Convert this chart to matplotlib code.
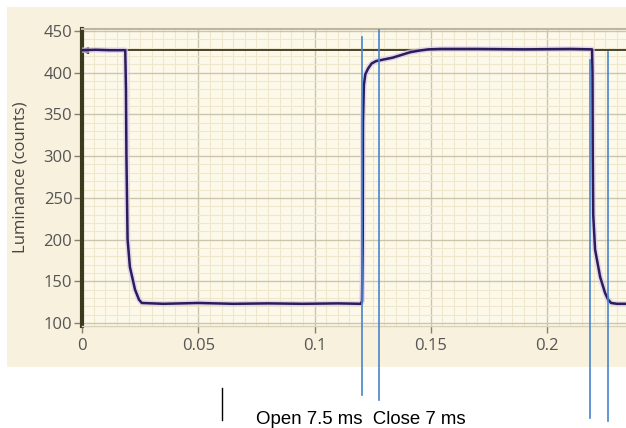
import matplotlib
matplotlib.use("Agg")
import matplotlib.pyplot as plt
from matplotlib.patches import Rectangle
from matplotlib.ticker import MultipleLocator

# trace: time (s) and luminance (counts)
trace_t = [0.0, 0.0060, 0.0120, 0.0186, 0.0189, 0.0191, 0.0196, 0.0206, 0.0228,
           0.0245, 0.0257, 0.0350, 0.0500, 0.0650, 0.0800, 0.0950, 0.1100, 0.1198,
           0.1204, 0.1207, 0.1208, 0.1212, 0.1218, 0.1230, 0.1245, 0.1265, 0.1300,
           0.1335, 0.1370, 0.1410, 0.1450, 0.1490, 0.1540, 0.1700, 0.1900, 0.2100,
           0.2193, 0.2195, 0.2196, 0.2198, 0.2206, 0.2228, 0.2249, 0.2262, 0.2275,
           0.2300, 0.2339]
trace_lum = [427, 427.5, 427, 427, 380, 300, 200, 167, 140,
             128, 124, 123, 124, 123, 123.5, 123, 123.5, 123,
             126, 200, 340, 385, 398, 405, 411, 414, 416,
             418, 421, 424.5, 426.5, 428, 428.5, 428.5, 428, 428.5,
             428, 400, 300, 230, 188, 155, 136, 128, 124,
             123, 123]

cursor_lum = 427

# annotation lines (time, top, bottom in counts)
mark_t = [0.1202, 0.1277, 0.2186, 0.2261]
mark_top = [443, 451, 415, 425]
mark_bottom = [14, 8, -14, -18]
tick_mark_t = 0.0602
tick_mark_span = (22, -16)
note_text = "Open 7.5 ms  Close 7 ms"

x_ticks = [0, 0.05, 0.1, 0.15, 0.2]
x_labels = ["0", "0.05", "0.1", "0.15", "0.2"]
y_ticks = [100, 150, 200, 250, 300, 350, 400, 450]

W, H = 626, 428
fig = plt.figure(figsize=(W / 100, H / 100), dpi=100)
fig.patch.set_facecolor("white")

# beige panel behind the graph
fig.patches.append(Rectangle((7 / W, 1 - 367 / H), 1 - 7 / W, 360 / H,
                             transform=fig.transFigure, facecolor="#f8f1dd",
                             edgecolor="none", zorder=-10))

ax = fig.add_axes([82 / W, 1 - 326 / H, 1 - 82 / W, 297 / H])
ax.set_zorder(1)
ax.set_facecolor("#fdf9ea")
ax.set_xlim(0, 0.2339)
ax.set_ylim(96.4, 452.4)

ax.xaxis.set_minor_locator(MultipleLocator(0.005))
ax.yaxis.set_minor_locator(MultipleLocator(10))
ax.set_xticks(x_ticks)
ax.set_xticklabels(x_labels)
ax.set_yticks(y_ticks)
ax.grid(which="minor", color="#efe7cc", lw=0.8)
ax.grid(which="major", color="#cbc5ae", lw=1.0)
ax.set_axisbelow(True)

ax.spines["right"].set_visible(False)
ax.spines["top"].set_color("#bdb59d")
ax.spines["top"].set_linewidth(1.5)
ax.spines["bottom"].set_color("#d9d1b8")
ax.spines["bottom"].set_linewidth(1)
ax.spines["left"].set_color("#3b3a1e")
ax.spines["left"].set_linewidth(3)

ax.tick_params(which="minor", length=0)
ax.tick_params(axis="x", which="major", direction="out", length=5, width=1,
               color="#888070", pad=4, labelsize=12, labelcolor="#555555")
ax.tick_params(axis="y", which="major", direction="out", length=6, width=1,
               color="#888070", pad=1, labelsize=12, labelcolor="#555555")
for lab in ax.get_xticklabels() + ax.get_yticklabels():
    lab.set_family("Open Sans")

ax.set_ylabel("Luminance (counts)", family="Open Sans", fontsize=12,
              color="#454545")
ax.yaxis.set_label_coords(-0.098, 0.5)

# cursor line
ax.axhline(cursor_lum, color="#3a3520", lw=1.3, zorder=3)
ax.plot([0.0015], [cursor_lum], marker="<", ms=4, color="#3a3520", zorder=4)

# trace with soft halo
ax.plot(trace_t, trace_lum, color="#d9c9ee", lw=4, alpha=0.7, zorder=4)
ax.plot(trace_t, trace_lum, color="#2b1c5c", lw=1.8, zorder=5)

# annotation lines that run below the axes
for t, top, bot in zip(mark_t, mark_top, mark_bottom):
    ax.plot([t, t], [bot, top], color="#4a84cc", lw=1.2, clip_on=False, zorder=6)
ax.plot([tick_mark_t, tick_mark_t], list(tick_mark_span), color="black", lw=1,
        clip_on=False, zorder=6)

fig.text(256 / W, 1 - 424 / H, note_text, family="Liberation Sans",
         fontsize=13.4, color="black", ha="left", va="baseline")

fig.savefig("out.png", dpi=100)
